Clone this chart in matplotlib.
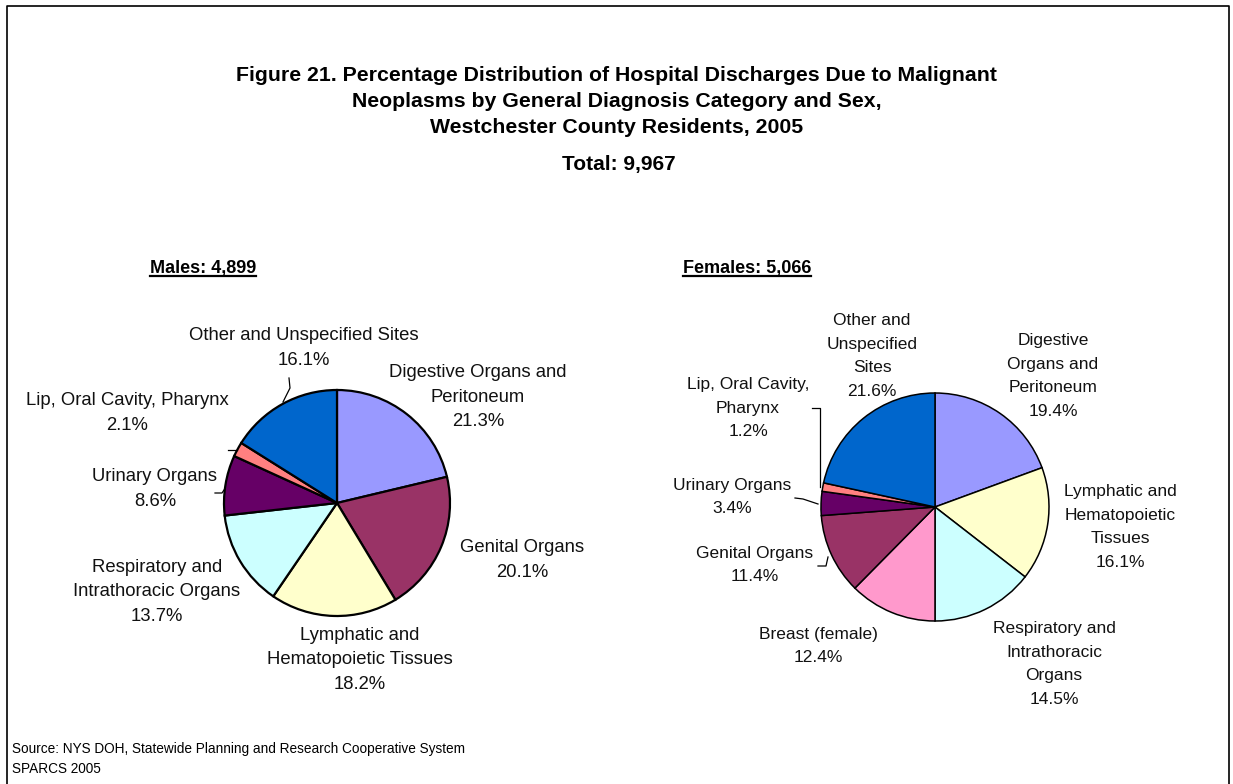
import matplotlib.pyplot as plt
from matplotlib.lines import Line2D

plt.rcParams['font.family'] = ['Liberation Sans', 'DejaVu Sans']

W, H = 1233, 784

# data
male_cats = ["Digestive Organs and Peritoneum", "Genital Organs",
             "Lymphatic and Hematopoietic Tissues", "Respiratory and Intrathoracic Organs",
             "Urinary Organs", "Lip, Oral Cavity, Pharynx", "Other and Unspecified Sites"]
male_pct = [21.3, 20.1, 18.2, 13.7, 8.6, 2.1, 16.1]
male_colors = ["#9999FF", "#993366", "#FFFFCC", "#CCFFFF", "#660066", "#FF8080", "#0066CC"]

female_cats = ["Digestive Organs and Peritoneum", "Lymphatic and Hematopoietic Tissues",
               "Respiratory and Intrathoracic Organs", "Breast (female)", "Genital Organs",
               "Urinary Organs", "Lip, Oral Cavity, Pharynx", "Other and Unspecified Sites"]
female_pct = [19.4, 16.1, 14.5, 12.4, 11.4, 3.4, 1.2, 21.6]
female_colors = ["#9999FF", "#FFFFCC", "#CCFFFF", "#FF99CC", "#993366", "#660066", "#FF8080", "#0066CC"]

# label text as printed on the chart, and label centre positions (pixels)
male_labels = ["Digestive Organs and\nPeritoneum", "Genital Organs",
               "Lymphatic and\nHematopoietic Tissues", "Respiratory and\nIntrathoracic Organs",
               "Urinary Organs", "Lip, Oral Cavity, Pharynx", "Other and Unspecified Sites"]
male_pos = [(478, 397), (522, 560), (360, 660), (157, 592), (155, 489), (127, 413), (304, 348)]

female_labels = ["Digestive\nOrgans and\nPeritoneum", "Lymphatic and\nHematopoietic\nTissues",
                 "Respiratory and\nIntrathoracic\nOrgans", "Breast (female)", "Genital Organs",
                 "Urinary Organs", "Lip, Oral Cavity,\nPharynx", "Other and\nUnspecified\nSites"]
female_pos = [(1053, 376), (1120, 527), (1054, 664), (818, 646), (755, 565), (732, 497), (748, 408), (872, 356)]

title_lines = ["Figure 21. Percentage Distribution of Hospital Discharges Due to Malignant",
               "Neoplasms by General Diagnosis Category and Sex,",
               "Westchester County Residents, 2005"]

fig = plt.figure(figsize=(W / 100, H / 100), dpi=100)
ax = fig.add_axes([0, 0, 1, 1])
ax.set_aspect('equal')
ax.axis('off')


def py(y):
    return H - y


ax.pie(male_pct, colors=male_colors, startangle=90, counterclock=False,
       center=(337, py(503)), radius=113, normalize=True,
       wedgeprops=dict(edgecolor='black', linewidth=1.6))
ax.pie(female_pct, colors=female_colors, startangle=90, counterclock=False,
       center=(935, py(507)), radius=114, normalize=True,
       wedgeprops=dict(edgecolor='black', linewidth=1.1))
ax.set_xlim(0, W)
ax.set_ylim(0, H)

for lab, pct, (x, y) in zip(male_labels, male_pct, male_pos):
    ax.text(x, py(y), f"{lab}\n{pct}%", ha='center', va='center', fontsize=13.3,
            linespacing=1.6, color='#111111')
for lab, pct, (x, y) in zip(female_labels, female_pct, female_pos):
    ax.text(x, py(y), f"{lab}\n{pct}%", ha='center', va='center', fontsize=12.5,
            linespacing=1.72, color='#111111')

# leader lines
leaders = [
    [(289, 378), (290, 388), (283, 402)],          # male other
    [(228, 450), (237, 450)],                        # male lip
    [(215, 493), (222, 493), (224, 490)],           # male urinary
    [(812, 408), (820, 408), (820, 487)],            # female lip
    [(795, 498), (803, 499), (818, 504)],            # female urinary
    [(818, 566), (826, 566), (828, 557)],            # female genital
]
for pts in leaders:
    ax.plot([p[0] for p in pts], [py(p[1]) for p in pts], color='black', lw=0.9)

# titles
for i, line in enumerate(title_lines):
    ax.text(W / 2, py(75 + 26 * i), line, ha='center', va='center', fontsize=15.3, fontweight='bold')
ax.text(619, py(164), "Total: 9,967", ha='center', va='center', fontsize=15, fontweight='bold')

heads = [ax.text(203, py(268), "Males: 4,899", ha='center', va='center', fontsize=13, fontweight='bold'),
         ax.text(747, py(268), "Females: 5,066", ha='center', va='center', fontsize=13, fontweight='bold')]

ax.text(12, py(759), "Source: NYS DOH, Statewide Planning and Research Cooperative System\nSPARCS 2005",
        ha='left', va='center', fontsize=9.8, linespacing=1.6)

# underline headers
fig.canvas.draw()
r = fig.canvas.get_renderer()
for t in heads:
    bb = t.get_window_extent(r)
    fig.add_artist(Line2D([bb.x0, bb.x1], [bb.y0 + 1, bb.y0 + 1], color='black', lw=1.6,
                          transform=None))

# frame (left, top, right)
ax.plot([7, 7, 1229, 1229], [0, py(6), py(6), 0], color='black', lw=1.2)

fig.savefig("out.png", dpi=100)
